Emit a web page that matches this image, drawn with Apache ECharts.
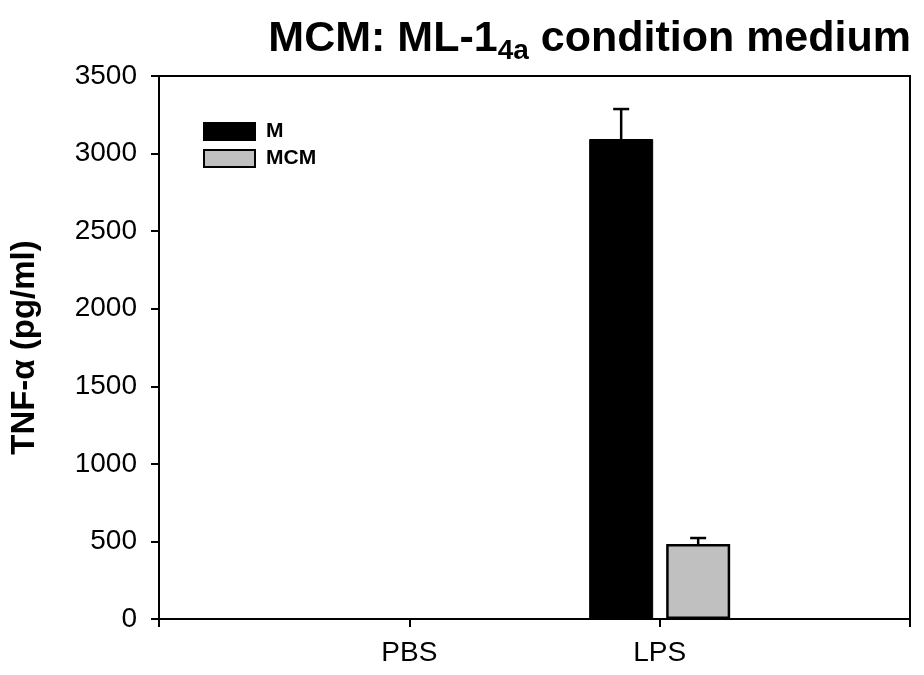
<!DOCTYPE html>
<html>
<head>
<meta charset="utf-8">
<script src="https://cdn.jsdelivr.net/npm/echarts@6/dist/echarts.min.js"></script>
<style>
  html, body { margin: 0; padding: 0; background: #fff; }
  #chart { width: 924px; height: 675px; }
</style>
</head>
<body>
<div id="chart"></div>
<script>
// data
var categories = ['PBS', 'LPS'];
var seriesNames = ['M', 'MCM'];
var mValues = [0, 3094];
var mcmValues = [0, 483];
var mErrors = [0, 193];
var mcmErrors = [0, 39];
var yTicks = [0, 500, 1000, 1500, 2000, 2500, 3000, 3500];

// pad the category axis so PBS / LPS sit at 1/3 and 2/3 of the width
var axisCats = [''].concat(categories, ['']);
function pad(arr) {
    // zero bars are not drawn in the original
    var d = arr.map(function (v) { return v === 0 ? null : v; });
    return [null].concat(d, [null]);
}

var barWidth = 64;
var barGapPx = 13;
var errOffset = [-(barWidth + barGapPx) / 2, (barWidth + barGapPx) / 2];

function errData(vals, errs, idx) {
    var d = [];
    for (var i = 0; i < vals.length; i++) {
        if (errs[i] > 0) d.push([i + 1, vals[i], vals[i] + errs[i], idx]);
    }
    return d;
}

function renderErr(params, api) {
    var idx = api.value(3);
    var base = api.coord([api.value(0), api.value(1)]);
    var top = api.coord([api.value(0), api.value(2)]);
    var x = base[0] + errOffset[idx];
    var cap = 8;
    var st = { stroke: '#000', lineWidth: 2.5 };
    return {
        type: 'group',
        children: [
            { type: 'line', shape: { x1: x, y1: base[1], x2: x, y2: top[1] }, style: st },
            { type: 'line', shape: { x1: x - cap, y1: top[1], x2: x + cap, y2: top[1] }, style: st }
        ]
    };
}

var font = 'Liberation Sans, Arial, sans-serif';

var option = {
    animation: false,
    backgroundColor: '#fff',
    title: {
        text: '{a|MCM: ML-1}{b|4a}{a| condition medium}',
        right: 8,
        top: 8,
        textStyle: {
            rich: {
                a: { fontFamily: font, fontWeight: 'bold', fontSize: 43, color: '#000', lineHeight: 48 },
                b: { fontFamily: font, fontWeight: 'bold', fontSize: 28, color: '#000', padding: [24, 0, 0, 0] }
            }
        }
    },
    legend: {
        orient: 'vertical',
        left: 203,
        top: 121,
        padding: 0,
        itemWidth: 51,
        itemHeight: 17,
        itemGap: 6,
        icon: 'rect',
        data: seriesNames,
        textStyle: {
            fontFamily: font, fontWeight: 'bold', fontSize: 21, lineHeight: 17,
            color: '#000', padding: [0, 0, 0, 6]
        }
    },
    grid: {
        left: 156,
        right: 14,
        top: 76,
        bottom: 56,
        show: true,
        borderColor: '#000',
        borderWidth: 2,
        backgroundColor: 'transparent'
    },
    xAxis: {
        type: 'category',
        data: axisCats,
        boundaryGap: false,
        axisLine: { lineStyle: { color: '#000', width: 2 } },
        axisTick: { length: 8, lineStyle: { color: '#000', width: 2 } },
        axisLabel: { color: '#000', fontFamily: font, fontSize: 28, margin: 20 },
        splitLine: { show: false }
    },
    yAxis: {
        type: 'value',
        min: yTicks[0],
        max: yTicks[yTicks.length - 1],
        interval: yTicks[1] - yTicks[0],
        name: 'TNF-α (pg/ml)',
        nameLocation: 'middle',
        nameGap: 118,
        nameTextStyle: { fontFamily: font, fontWeight: 'bold', fontSize: 33, color: '#000' },
        axisLine: { show: true, lineStyle: { color: '#000', width: 2 } },
        axisTick: { show: true, length: 8, lineStyle: { color: '#000', width: 2 } },
        axisLabel: {
            color: '#000', fontFamily: font, fontSize: 28, margin: 22,
            formatter: function (v) { return String(v); }
        },
        splitLine: { show: false }
    },
    series: [
        {
            name: seriesNames[0],
            type: 'bar',
            data: pad(mValues),
            barWidth: barWidth,
            barGap: (barGapPx / barWidth * 100) + '%',
            itemStyle: { color: '#000', borderColor: '#000', borderWidth: 1 }
        },
        {
            name: seriesNames[1],
            type: 'bar',
            data: pad(mcmValues),
            barWidth: barWidth,
            itemStyle: { color: '#c0c0c0', borderColor: '#000', borderWidth: 2.5 }
        },
        {
            type: 'custom',
            renderItem: renderErr,
            data: errData(mValues, mErrors, 0).concat(errData(mcmValues, mcmErrors, 1)),
            z: 5,
            silent: true
        }
    ]
};

var chart = echarts.init(document.getElementById('chart'));
chart.setOption(option);
</script>
</body>
</html>
